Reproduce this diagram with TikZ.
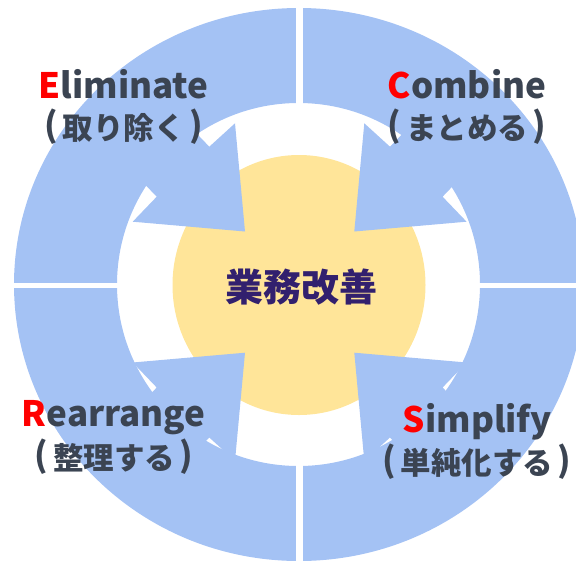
\documentclass[tikz,border=0pt]{standalone}
\usepackage{fontspec}
\setmainfont{Noto Sans CJK JP}
\definecolor{ringblue}{HTML}{A4C2F4}
\definecolor{coreyellow}{HTML}{FFE599}
\definecolor{labelgray}{HTML}{3B4452}
\definecolor{corepurple}{HTML}{32206E}
\definecolor{initred}{HTML}{FF0000}
\newcommand{\bigparen}[1]{\raisebox{1.8pt}{\fontsize{34}{34}\selectfont#1}}
\newcommand{\jpparen}[1]{\bigparen{(}\kern0.15em#1\kern0.15em\bigparen{)}}
\begin{document}
\begin{tikzpicture}[x=1pt,y=-1pt,
  latin/.style={inner sep=0pt, font=\fontsize{35}{35}\selectfont\bfseries, text=labelgray, anchor=base},
  jp/.style={inner sep=0pt, font=\fontsize{30.5}{30.5}\selectfont\bfseries, text=labelgray, anchor=center},
  core/.style={inner sep=0pt, font=\fontsize{38}{38}\selectfont\bfseries, text=corepurple, anchor=center},
  gap/.style={fill=white}]
\useasboundingbox (0,0) rectangle (576,563);
\clip (0,0) rectangle (576,563);
% outer ring
\fill[ringblue, even odd rule] (299,284.5) ellipse [x radius=285, y radius=276.5]
      (298.5,284.5) circle [radius=181.5];
% white gaps between quadrants
\fill[gap] (296,-5) rectangle (302.6,570);
\fill[gap] (-5,282.5) rectangle (580,287.7);
% centre disc
\fill[coreyellow] (299,285) ellipse [x radius=126.5, y radius=130];
% four block arrows
\foreach \sx/\sy in {1/1,-1/1,1/-1,-1/-1}{
  \fill[ringblue, shift={(299.65,292.1)}, xscale=\sx, yscale=\sy]
    (-54.65,-60.6) -- (-64.65,-168.8) -- (-90.35,-145.4) -- (-131.95,-188.7)
    -- (-184.55,-138.7) -- (-142.95,-95.4) -- (-166.95,-70.4) -- cycle;
}
% labels
\node[latin] (elimEN) at (123.5,98.5) {\textcolor{initred}{E}liminate};
\node[jp] (elimJP) at (123.5,127) {\jpparen{取り除く}};
\node[latin] (combEN) at (467,98.5) {\textcolor{initred}{C}ombine};
\node[jp] (combJP) at (467,127) {\jpparen{まとめる}};
\node[latin] (rearEN) at (113.7,426) {\textcolor{initred}{R}earrange};
\node[jp] (rearJP) at (114,456.5) {\jpparen{整理する}};
\node[latin] (simpEN) at (477.5,432.8) {\textcolor{initred}{S}implify};
\node[jp] (simpJP) at (477,462) {\jpparen{単純化する}};
\node[core] (center) at (301,287) {業務改善};
\end{tikzpicture}
\end{document}
